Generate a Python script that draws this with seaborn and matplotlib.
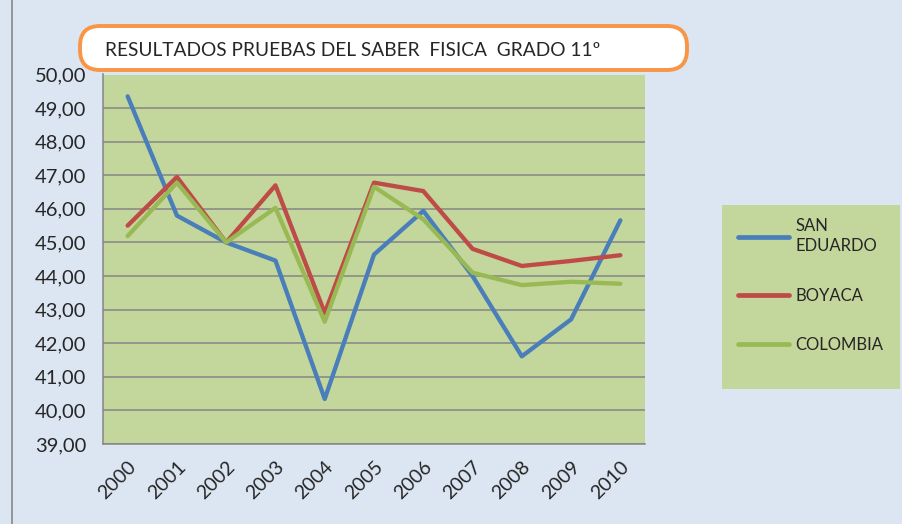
import numpy as np
import pandas as pd
import matplotlib
matplotlib.use("Agg")
import matplotlib.pyplot as plt
import seaborn as sns
from matplotlib.patches import FancyBboxPatch, Rectangle
from matplotlib.ticker import FuncFormatter, FixedLocator

# data
years = [2000, 2001, 2002, 2003, 2004, 2005, 2006, 2007, 2008, 2009, 2010]
san_eduardo = [49.35, 45.80, 45.00, 44.46, 40.34, 44.64, 45.94, 44.00, 41.61, 42.71, 45.66]
boyaca = [45.50, 46.95, 45.00, 46.70, 42.90, 46.78, 46.53, 44.81, 44.30, 44.45, 44.62]
colombia = [45.19, 46.78, 45.00, 46.03, 42.64, 46.66, 45.69, 44.10, 43.73, 43.83, 43.77]
series_names = ["SAN\nEDUARDO", "BOYACA", "COLOMBIA"]
colors = ["#4a7ebb", "#be4b48", "#98b954"]

df = pd.DataFrame({
    "year": years * 3,
    "value": san_eduardo + boyaca + colombia,
    "serie": [series_names[0]] * 11 + [series_names[1]] * 11 + [series_names[2]] * 11,
})

sns.set_style("white")
plt.rcParams["font.family"] = ["Lato", "DejaVu Sans"]

fig = plt.figure(figsize=(9.02, 5.24), dpi=100)
fig.patch.set_facecolor("#dce6f2")

# background layer in pixel units (title box, border, legend box)
bg = fig.add_axes([0, 0, 1, 1], zorder=0)
bg.set_xlim(0, 902)
bg.set_ylim(524, 0)
bg.axis("off")
bg.axvline(12, color="#868686", linewidth=1.2)
bg.add_patch(FancyBboxPatch((80, 26), 607, 44, boxstyle="round,pad=0,rounding_size=20",
                            facecolor="white", edgecolor="#f79646", linewidth=2.8))
bg.text(105, 50, "RESULTADOS PRUEBAS DEL SABER  FISICA  GRADO 11º",
        fontsize=13.8, va="center", ha="left")
bg.add_patch(Rectangle((722, 205), 178, 184, facecolor="#c3d69b", edgecolor="none"))

ax = fig.add_axes([103 / 902, 1 - 444 / 524, 542 / 902, 369.5 / 524], zorder=1)
ax.set_facecolor("#c3d69b")

sns.lineplot(data=df, x="year", y="value", hue="serie", palette=colors,
             linewidth=3.1, ax=ax, legend=False)

ax.set_xlim(1999.5, 2010.5)
ax.set_ylim(39, 50)
ax.set_yticks(np.arange(39, 51, 1))
ax.yaxis.set_major_formatter(FuncFormatter(lambda v, p: f"{v:.2f}".replace(".", ",")))
ax.set_xticks(years)
ax.set_xticklabels([str(y) for y in years], rotation=45, ha="right", rotation_mode="anchor",
                   fontsize=14)
ax.xaxis.set_minor_locator(FixedLocator(np.arange(1999.5, 2011, 1)))
ax.tick_params(axis="x", which="major", length=0, pad=10)
ax.tick_params(axis="x", which="minor", length=6, color="#868686", direction="out")
ax.tick_params(axis="y", length=6, color="#868686", direction="out", labelsize=14.5, pad=6)
ax.grid(axis="y", color="#868686", linewidth=1.1)
ax.set_axisbelow(True)
ax.set_xlabel("")
ax.set_ylabel("")
for side in ["top", "right"]:
    ax.spines[side].set_visible(False)
for side in ["left", "bottom"]:
    ax.spines[side].set_color("#868686")
    ax.spines[side].set_linewidth(1.1)

# legend
handles = [plt.Line2D([], [], color=c, linewidth=3.4) for c in colors]
leg = fig.legend(handles, series_names, loc="upper left",
                 bbox_to_anchor=(726 / 902, 1 - 206 / 524), frameon=False,
                 fontsize=12, handlelength=3.1, labelspacing=2.0,
                 borderpad=0.2, handletextpad=0.35)
for t in leg.get_texts():
    t.set_linespacing(1.35)
leg.set_zorder(3)

fig.savefig("out.png", dpi=100, facecolor=fig.get_facecolor())
